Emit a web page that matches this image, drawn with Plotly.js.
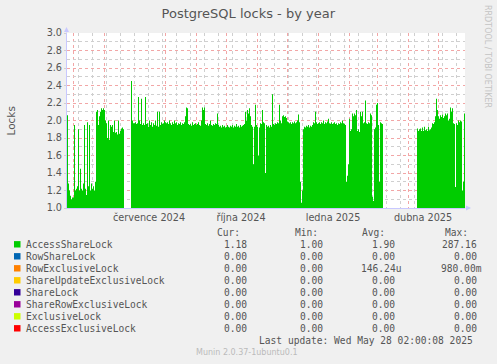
<!DOCTYPE html>
<html><head><meta charset="utf-8">
<script src="https://cdn.plot.ly/plotly-3.0.1.min.js"></script>
<style>html,body{margin:0;padding:0;background:#f0f0f0;overflow:hidden}</style>
</head><body><div id="chart" style="width:497px;height:364px"></div>
<script>
// Daily values of AccessShareLock starting at startDay (null = no data)
const startDay = [2024, 3, 25];
const accessShareLock = [
2.06,1.28,1.2,1.14,1.1,1.12,1.12,1.95,1.2,1.22,
1.25,1.9,1.2,1.45,1.22,1.2,1.28,1.95,1.22,1.15,
1.98,1.25,1.95,1.2,1.28,1.22,1.25,1.2,1.3,2.1,
2.12,1.95,2.05,2.1,2.14,2.12,2.14,2.12,2.0,1.97,
1.8,2.0,1.78,1.95,1.93,1.95,1.87,2.0,1.86,1.87,
1.84,2.0,1.85,1.88,1.91,1.92,1.9,null,null,null,
null,null,null,null,2.45,2.0,1.97,1.97,1.98,1.96,
1.97,2.27,2.0,1.96,2.25,1.95,1.97,1.95,2.27,1.96,
1.97,1.93,2.0,1.95,1.98,1.93,1.97,1.95,2.0,1.94,
2.1,1.93,2.1,1.95,1.98,1.96,1.97,2.0,1.98,1.97,
1.98,1.96,2.0,1.97,1.95,1.98,1.96,2.0,1.97,1.98,
1.95,1.97,1.96,1.98,1.95,1.97,1.96,1.98,2.05,2.15,
2.14,1.96,1.95,1.96,1.94,1.98,1.95,1.96,1.97,1.95,
1.96,1.98,1.95,1.94,2.0,2.15,2.12,2.15,1.96,1.95,
1.97,1.94,1.96,2.0,1.95,1.94,1.96,1.95,1.97,1.96,
2.08,1.95,1.93,1.94,1.92,1.95,1.93,1.94,1.92,1.93,
1.95,1.93,1.92,1.94,1.93,1.95,1.92,1.94,1.93,1.96,
1.93,1.94,1.92,1.95,1.93,1.94,1.95,1.96,2.1,2.0,
2.12,2.08,2.14,2.05,1.95,1.93,1.5,1.93,2.18,1.95,
1.93,1.6,1.92,1.97,1.96,2.12,1.98,1.97,1.4,1.95,
1.93,1.94,1.92,1.95,1.93,2.3,1.96,1.95,1.97,1.96,
1.98,1.97,2.18,2.0,1.97,2.05,2.06,2.04,2.05,2.03,
1.99,1.98,1.97,1.98,1.96,1.98,1.97,1.99,1.97,1.98,
2.0,2.07,1.98,1.3,1.06,1.2,1.9,1.93,1.92,1.94,
1.93,1.95,1.92,1.94,1.93,1.95,1.98,1.97,2.1,1.98,
1.96,1.97,1.98,1.96,1.98,1.97,2.0,1.96,1.98,1.97,
1.99,2.02,1.97,1.96,1.98,1.96,1.97,1.98,1.96,1.97,
1.95,1.97,1.96,1.98,1.97,2.0,1.97,1.96,1.95,1.3,
1.37,1.5,2.02,1.88,1.9,2.08,2.05,2.08,2.06,2.12,
1.88,1.9,1.87,2.1,2.05,2.1,1.97,1.98,2.23,1.97,
1.96,1.98,1.97,2.08,2.06,1.13,1.08,1.9,1.92,2.18,
2.2,1.95,1.3,1.98,1.97,1.96,null,null,null,null,
null,null,null,null,null,null,null,null,null,null,
null,null,null,null,null,null,null,null,null,null,
null,null,null,null,null,null,null,null,null,null,
1.91,1.88,1.9,1.91,1.88,1.92,1.88,1.93,1.89,1.9,
1.88,1.93,1.89,1.9,1.92,1.97,1.96,1.98,2.05,2.25,
2.12,2.05,2.02,2.06,2.04,2.07,2.03,2.05,2.08,2.06,
2.08,2.0,2.02,2.15,2.1,2.14,1.97,1.96,1.24,1.97,
1.95,2.0,1.98,2.0,1.99,1.2,1.3,2.08,1.18
];

const tickDates = ['2024-07-16','2024-10-16','2025-01-16','2025-04-16'];
const tickLabels = ['července 2024','října 2024','ledna 2025','dubna 2025'];

const seriesNames = ['AccessShareLock','RowShareLock','RowExclusiveLock','ShareUpdateExclusiveLock',
  'ShareLock','ShareRowExclusiveLock','ExclusiveLock','AccessExclusiveLock'];
const seriesColors = ['#00cc00','#0066b3','#ff8000','#ffcc00','#330099','#990099','#ccff00','#ff0000'];
const curVals = ['1.18','0.00','0.00','0.00','0.00','0.00','0.00','0.00'];
const minVals = ['1.00','0.00','0.00','0.00','0.00','0.00','0.00','0.00'];
const avgVals = ['1.90','0.00','146.24u','0.00','0.00','0.00','0.00','0.00'];
const maxVals = ['287.16','0.00','980.00m','0.00','0.00','0.00','0.00','0.00'];
const columnHeads = ['Cur:','Min:','Avg:','Max:'];

// ---------- geometry ----------
const W = 497, H = 364, L = 67, R = 465, T = 33, B = 208;
const px = x => (x - L) / (R - L);
const py = y => (B - y) / (B - T);
const monoSize = 9.6, charW = monoSize * 0.602;
const mono = {family: 'DejaVu Sans Mono', size: monoSize, color: '#555555'};

const t0 = Date.UTC(startDay[0], startDay[1], startDay[2]);
const dayStr = i => new Date(t0 + i * 864e5).toISOString().slice(0, 10);

// split into contiguous runs so gaps stay empty
const traces = [];
let run = null;
accessShareLock.forEach((v, i) => {
  if (v === null) { run = null; return; }
  if (!run) {
    run = {x: [], y: [], type: 'scatter', mode: 'lines',
      line: {width: 0, shape: 'hv', color: '#00cc00'}, fill: 'tozeroy', fillcolor: '#00cc00',
      hoverinfo: 'skip', showlegend: false};
    traces.push(run);
  }
  run.x.push(dayStr(i)); run.y.push(v);
  // close the step of this day
  const nxt = accessShareLock[i + 1];
  if (nxt === null || nxt === undefined) { run.x.push(dayStr(i + 1)); run.y.push(v); }
});
traces.push({x: [], y: [], xaxis: 'x2', yaxis: 'y', type: 'scatter', showlegend: false});

const ann = [];
const shapes = [];
function text(t, x, y, font, xanchor, extra) {
  ann.push(Object.assign({text: t, x: px(x), y: py(y), xref: 'paper', yref: 'paper',
    showarrow: false, xanchor: xanchor || 'left', yanchor: 'middle', font: font,
    borderpad: 0, borderwidth: 0}, extra || {}));
}

text('Locks', 10, 120.5, {family: 'DejaVu Sans', size: 10.5, color: '#555555'}, 'center', {textangle: -90});
text('RRDTOOL / TOBI OETIKER', 488, 56, {family: 'DejaVu Sans', size: 8, color: '#c4c4c4'}, 'center', {textangle: 90});
text('Munin 2.0.37-1ubuntu0.1', 247, 352.7, {family: 'DejaVu Sans', size: 8, color: '#bbbbbb'}, 'center');

ann.push({text: '', x: px(471), y: py(208), xref: 'paper', yref: 'paper', showarrow: true,
  ax: -7, ay: 0, arrowhead: 2, arrowsize: 1, arrowwidth: 1, arrowcolor: '#c8c8ff'});
ann.push({text: '', x: px(66.5), y: py(27), xref: 'paper', yref: 'paper', showarrow: true,
  ax: 0, ay: 7, arrowhead: 2, arrowsize: 1, arrowwidth: 1, arrowcolor: '#c8c8ff'});

const headRight = [240, 318.3, 385, 468.3];
const colRight = [246.7, 323.3, 395.3, 476.7];
const cols = [curVals, minVals, avgVals, maxVals];
columnHeads.forEach((h, c) => text(h, headRight[c], 232.3, mono, 'right'));
seriesNames.forEach((name, i) => {
  const yc = 244.3 + 12 * i;
  shapes.push({type: 'rect', xref: 'paper', yref: 'paper', x0: px(14), x1: px(20.5),
    y0: py(yc - 3.2), y1: py(yc + 3.2), fillcolor: seriesColors[i], line: {width: 0}});
  text(name, 26, yc, mono, 'left');
  cols.forEach((col, c) => {
    const v = col[i];
    const hasUnit = /[a-zA-Z]$/.test(v);
    text(v, colRight[c] + (hasUnit ? charW : 0), yc, mono, 'right');
  });
});
text('Last update: Wed May 28 02:00:08 2025', 473.3, 340.5, mono, 'right');

const gridRed = '#f2a6a6', gridGrey = '#cfcfcf', dash = 'dot';
const tickFont = {family: 'DejaVu Sans', size: 9.7, color: '#555555'};

const layout = {
  width: W, height: H, autosize: false,
  margin: {l: L, r: W - R, t: T, b: H - B, pad: 0},
  paper_bgcolor: '#f0f0f0', plot_bgcolor: '#ffffff',
  showlegend: false,
  title: {text: 'PostgreSQL locks - by year', xref: 'container', yref: 'container',
    x: 248.3 / W, y: 1 - 13.5 / H, xanchor: 'center', yanchor: 'middle',
    font: {family: 'DejaVu Sans', size: 13, color: '#555555'}},
  xaxis: {type: 'date', range: ['2024-04-25', '2025-05-28'], tickmode: 'array',
    tickvals: tickDates, ticktext: tickLabels, showgrid: false, ticks: '', zeroline: false,
    showline: true, linecolor: '#c8c8ff', linewidth: 1, tickfont: tickFont, fixedrange: true,
    minor: {tickmode: 'linear', tick0: '2024-05-01', dtick: 'M1', showgrid: true,
      gridcolor: gridRed, griddash: dash, gridwidth: 1, ticks: ''}},
  xaxis2: {type: 'date', overlaying: 'x', range: ['2024-04-25', '2025-05-28'],
    tickmode: 'linear', tick0: '2024-05-06', dtick: 14 * 864e5, showgrid: true,
    gridcolor: gridGrey, griddash: dash, gridwidth: 1, showticklabels: false, ticks: '',
    showline: false, zeroline: false, fixedrange: true},
  yaxis: {range: [1, 3], tickmode: 'linear', tick0: 1, dtick: 0.2, tickformat: '.1f',
    showgrid: true, gridcolor: gridRed, griddash: dash, gridwidth: 1, zeroline: false,
    showline: true, linecolor: '#c8c8ff', linewidth: 1, ticks: 'outside', ticklen: 2,
    tickcolor: '#d0d0d0', tickfont: tickFont, fixedrange: true,
    minor: {tickmode: 'linear', tick0: 1, dtick: 0.1, showgrid: true, gridcolor: gridGrey,
      griddash: dash, gridwidth: 1, ticks: ''}},
  annotations: ann,
  shapes: shapes
};

Plotly.newPlot('chart', traces, layout, {displayModeBar: false, staticPlot: true});
</script>
</body></html>
